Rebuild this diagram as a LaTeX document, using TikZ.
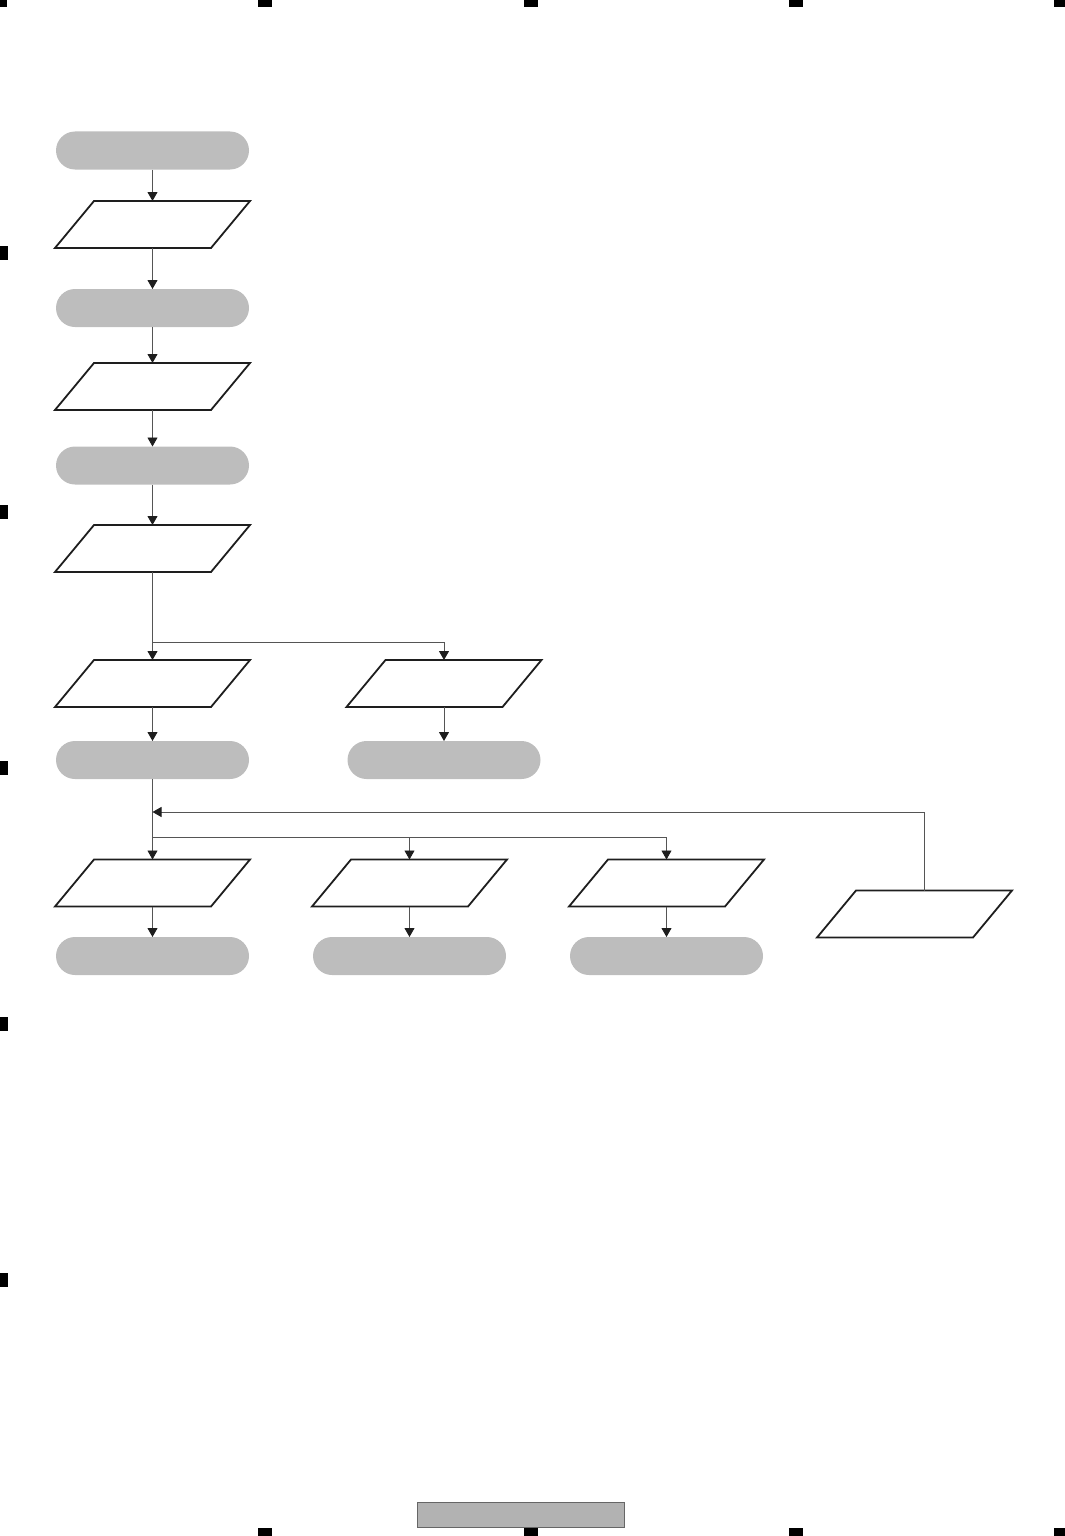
\documentclass[tikz,border=0pt]{standalone}
\usetikzlibrary{arrows.meta,calc}
\definecolor{termgray}{HTML}{BDBDBD}
\definecolor{linegray}{HTML}{555555}
\definecolor{edgedark}{HTML}{1E1E1E}
\begin{document}
\begin{tikzpicture}[x=1pt,y=-1pt,
  term/.style={rectangle, rounded corners=19pt, fill=termgray, draw=none,
    minimum width=193pt, minimum height=38pt, inner sep=0pt, outer sep=0pt},
  para/.style={rectangle, draw=none,
    minimum width=195pt, minimum height=47pt, inner sep=0pt, outer sep=0pt},
  paraline/.style={draw=edgedark, line width=1.8pt, line join=miter},
  conn/.style={draw=linegray, line width=0.9pt},
  arr/.style={conn, -{Triangle[width=10pt,length=9pt,fill=edgedark,color=edgedark]}},
  regmark/.style={fill=black, draw=none}]
\useasboundingbox (0,0) rectangle (1065,1536);
% registration marks
\fill[regmark] (0,0) rectangle (7,7);
\fill[regmark] (258,0) rectangle (272,7);
\fill[regmark] (524,0) rectangle (538,7);
\fill[regmark] (789,0) rectangle (803,7);
\fill[regmark] (1054,0) rectangle (1065,7);
\fill[regmark] (258,1528) rectangle (272,1536);
\fill[regmark] (524,1528) rectangle (538,1536);
\fill[regmark] (789,1528) rectangle (803,1536);
\fill[regmark] (1054,1528) rectangle (1065,1536);
\foreach \yy in {253,512,768,1024,1280} {\fill[regmark] (0,\yy-7) rectangle (8,\yy+7);}
% bottom box
\draw[fill=black!30, draw=black!60, line width=0.8pt] (417,1502) rectangle (624,1527);
% nodes
\node[term] (t1) at (152.5,150.5) {};
\node[para] (p1) at (152.5,224.5) {};
\node[term] (t2) at (152.5,308) {};
\node[para] (p2) at (152.5,386.5) {};
\node[term] (t3) at (152.5,465.5) {};
\node[para] (p3) at (152.5,548.5) {};
\node[para] (p4a) at (152.5,683.5) {};
\node[para] (p4b) at (444,683.5) {};
\node[term] (t4a) at (152.5,760) {};
\node[term] (t4b) at (444,760) {};
\node[para] (p5a) at (152.5,883) {};
\node[para] (p5b) at (409.5,883) {};
\node[para] (p5c) at (666.5,883) {};
\node[term] (t6a) at (152.5,956) {};
\node[term] (t6b) at (409.5,956) {};
\node[term] (t6c) at (666.5,956) {};
\node[para] (pr) at (914.5,914) {};
% parallelogram outlines
\foreach \n in {p1,p2,p3,p4a,p4b,p5a,p5b,p5c,pr} {
  \draw[paraline] (\n.south west) -- ($(\n.north west)+(39,0)$) -- (\n.north east)
    -- ($(\n.south east)+(-39,0)$) -- cycle;
}
% coordinates
\coordinate (j1) at (152.5,642);
\coordinate (j1r) at (444,642);
\coordinate (fbend) at (152.5,812);
\coordinate (fbc) at (924,812);
\coordinate (j2) at (152.5,837);
\coordinate (j2b) at (409.5,837);
\coordinate (j2c) at (666.5,837);
% connectors
\draw[arr] (t1.south) -- (p1.north);
\draw[arr] (p1.south) -- (t2.north);
\draw[arr] (t2.south) -- (p2.north);
\draw[arr] (p2.south) -- (t3.north);
\draw[arr] (t3.south) -- (p3.north);
\draw[arr] (p3.south) -- (p4a.north);
\draw[arr] (j1) -- (j1r) -- (p4b.north);
\draw[arr] (p4a.south) -- (t4a.north);
\draw[arr] (p4b.south) -- (t4b.north);
\draw[arr] (t4a.south) -- (p5a.north);
\draw[arr] (j2) -- (j2b) -- (p5b.north);
\draw[arr] (j2b) -- (j2c) -- (p5c.north);
\draw[arr] (fbc |- pr.north) -- (fbc) -- (fbend);
\draw[arr] (p5a.south) -- (t6a.north);
\draw[arr] (p5b.south) -- (t6b.north);
\draw[arr] (p5c.south) -- (t6c.north);
\end{tikzpicture}
\end{document}
